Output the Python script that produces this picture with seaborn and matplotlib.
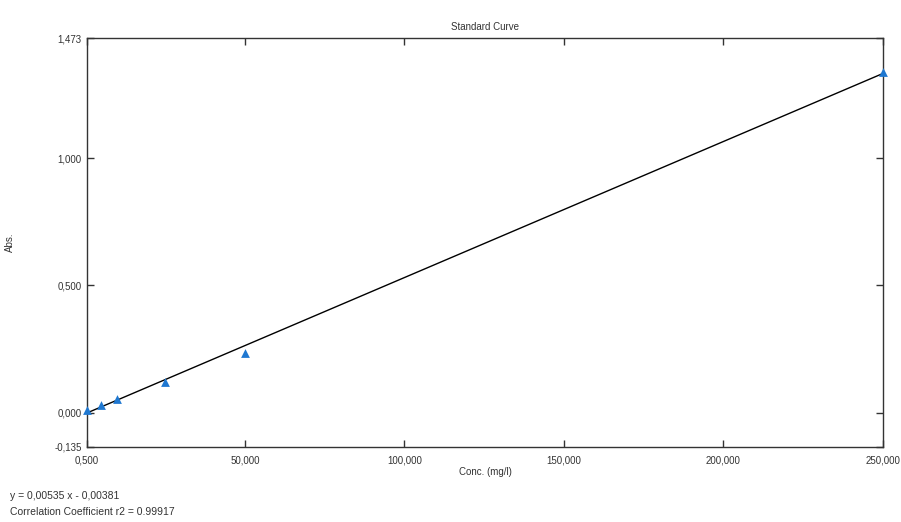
import matplotlib
matplotlib.use("Agg")
import matplotlib.pyplot as plt
import seaborn as sns
import pandas as pd
import numpy as np

conc = [0.5, 5.0, 10.0, 25.0, 50.0, 250.0]
absorb = [0.010, 0.030, 0.053, 0.120, 0.233, 1.340]
slope = 0.00535
intercept = -0.00381
x_ticks = [0.5, 50, 100, 150, 200, 250]
x_tick_labels = ["0,500", "50,000", "100,000", "150,000", "200,000", "250,000"]
y_ticks = [-0.135, 0.0, 0.5, 1.0, 1.473]
y_tick_labels = ["-0,135", "0,000", "0,500", "1,000", "1,473"]

sns.set_style("white")
plt.rcParams['font.family'] = ['Liberation Sans', 'DejaVu Sans']

fig = plt.figure(figsize=(9.01, 5.22), dpi=100)
ax = fig.add_axes([87/901, 1-447/522, (883-87)/901, (447-38)/522])

df = pd.DataFrame({"Conc": conc, "Abs": absorb})
fit_x = [conc[0], conc[-1]]
fit = pd.DataFrame({"Conc": fit_x, "Abs": [slope*v + intercept for v in fit_x]})

sns.lineplot(data=fit, x="Conc", y="Abs", ax=ax, color="black", linewidth=1.0)
sns.scatterplot(data=df, x="Conc", y="Abs", ax=ax, marker="^", color="#1f78d1",
                s=40, edgecolor="#1f78d1", linewidth=0, clip_on=False, zorder=5)

ax.set_xlim(0.5, 250)
ax.set_ylim(-0.135, 1.473)
ax.set_xticks(x_ticks)
ax.set_xticklabels(x_tick_labels)
ax.set_yticks(y_ticks)
ax.set_yticklabels(y_tick_labels)
ax.tick_params(axis="both", direction="in", length=5, width=1, color="#333333",
               labelsize=7, pad=4, labelcolor="#333333",
               bottom=True, left=True, top=True, right=True)
ax.tick_params(axis="x", pad=6)
for sp in ax.spines.values():
    sp.set_color("#333333")
    sp.set_linewidth(1.0)
ax.set_xlabel("Conc. (mg/l)", fontsize=7, labelpad=1, color="#333333")
ax.set_ylabel("Abs.", fontsize=7, labelpad=28, color="#333333")
ax.set_title("Standard Curve", fontsize=7, pad=6, color="#333333")

fig.text(10/901, 1-496/522, "y = 0,00535 x - 0,00381", fontsize=7.5, va="center", ha="left", color="#333333")
fig.text(10/901, 1-512/522, "Correlation Coefficient r2 = 0.99917", fontsize=7.5, va="center", ha="left", color="#333333")

fig.savefig("out.png", dpi=100)
